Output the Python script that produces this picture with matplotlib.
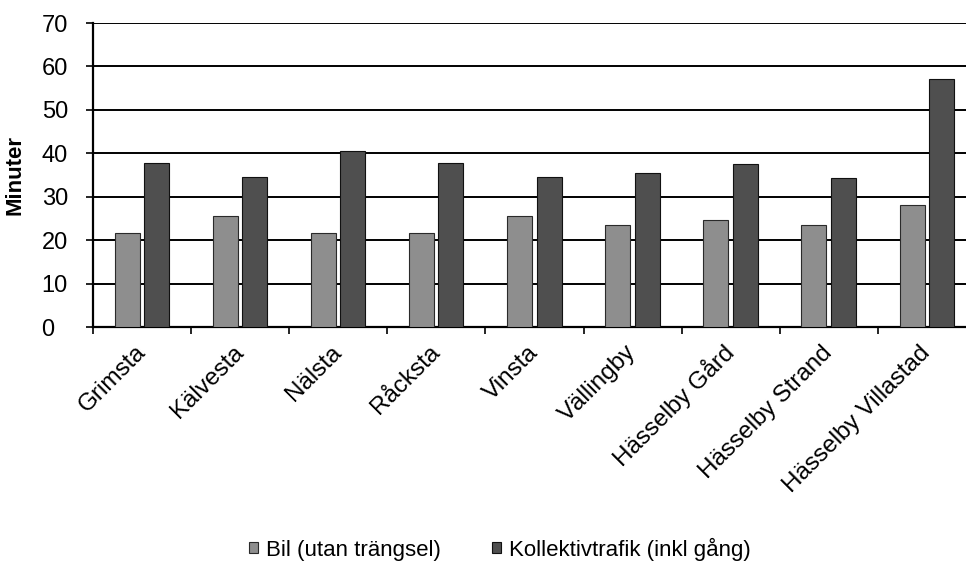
import matplotlib
matplotlib.use("Agg")
import matplotlib.pyplot as plt
import numpy as np

categories = ["Grimsta", "Kälvesta", "Nälsta", "Råcksta", "Vinsta", "Vällingby",
              "Hässelby Gård", "Hässelby Strand", "Hässelby Villastad"]
bil = [21.7, 25.6, 21.6, 21.6, 25.6, 23.6, 24.6, 23.4, 28.2]
kollektiv = [37.7, 34.6, 40.6, 37.7, 34.6, 35.5, 37.5, 34.3, 57.1]
series_names = ["Bil (utan trängsel)", "Kollektivtrafik (inkl gång)"]
yticks = [0, 10, 20, 30, 40, 50, 60, 70]

plt.rcParams['font.family'] = ['Liberation Sans', 'DejaVu Sans']

fig = plt.figure(figsize=(9.66, 5.63), dpi=100)
ax = fig.add_axes([93/966, 1-327/563, (976-93)/966, (327-23)/563])

x = np.arange(len(categories))
w = 0.255
b1 = ax.bar(x - 0.152, bil, w, color='#8e8e8e', edgecolor='#2a2a2a', linewidth=0.8,
            label=series_names[0], zorder=3)
b2 = ax.bar(x + 0.148, kollektiv, w, color='#4f4f4f', edgecolor='#111111', linewidth=0.8,
            label=series_names[1], zorder=3)

ax.set_xlim(-0.5, len(categories) - 0.5)
ax.set_ylim(0, 70)
ax.set_yticks(yticks)
ax.set_yticklabels([str(v) for v in yticks], fontsize=17, ha='left')
ax.yaxis.grid(True, color='black', linewidth=1.4, zorder=0)
ax.set_axisbelow(True)

ax.set_xticks(np.arange(len(categories) + 1) - 0.5, minor=False)
ax.set_xticklabels([])
ax.set_xticks(x, minor=True)
ax.set_xticklabels(categories, minor=True, rotation=45, ha='right', va='center',
                   rotation_mode='anchor', fontsize=17.5)
ax.tick_params(axis='x', which='minor', length=0, pad=16)
ax.tick_params(axis='x', which='major', length=5, width=1.2, direction='out')
ax.tick_params(axis='y', length=5, width=1.2, direction='out', pad=32)

for s in ['top', 'right']:
    ax.spines[s].set_visible(False)
for s in ['left', 'bottom']:
    ax.spines[s].set_linewidth(1.6)
    ax.spines[s].set_color('black')

ax.set_ylabel("Minuter", fontsize=16, fontweight='bold')
ax.yaxis.set_label_coords(-67/883, (327-175)/304)

fig.legend(handles=[b1, b2], labels=series_names, loc='center',
           bbox_to_anchor=(500/966, 1-549/563), ncol=2, frameon=False,
           fontsize=16, handlelength=0.4, handleheight=0.4, handletextpad=0.35,
           columnspacing=2.3)

fig.savefig("out.png", dpi=100)
